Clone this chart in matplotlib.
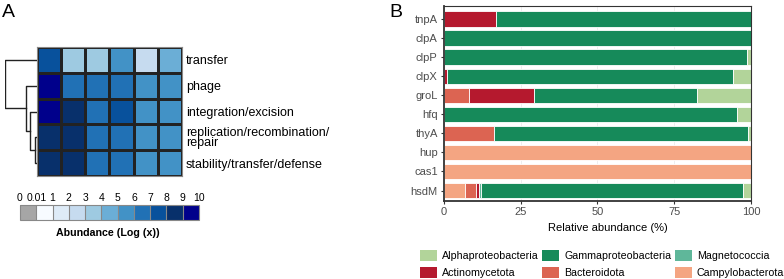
import matplotlib
matplotlib.use("Agg")
import matplotlib.pyplot as plt
from matplotlib.colors import ListedColormap, BoundaryNorm
from matplotlib.cm import ScalarMappable
from matplotlib.patches import Patch
import numpy as np

plt.rcParams['font.family'] = ['Liberation Sans', 'DejaVu Sans']

# ---- panel A data ----
functions = ['transfer', 'phage', 'integration/excision',
             'replication/recombination/\nrepair', 'stability/transfer/defense']
# log abundance per sample (6 samples)
abund = [
    [7.5, 3.5, 3.5, 5.5, 2.5, 4.5],
    [9.5, 6.5, 6.5, 6.5, 5.5, 5.5],
    [9.5, 8.5, 6.5, 7.5, 5.5, 5.5],
    [8.5, 8.5, 6.5, 6.5, 5.5, 5.5],
    [8.5, 8.5, 6.5, 6.5, 5.5, 5.5],
]
bounds = [0, 0.01, 1, 2, 3, 4, 5, 6, 7, 8, 9, 10]
bound_labels = ['0', '0.01', '1', '2', '3', '4', '5', '6', '7', '8', '9', '10']
pal = ['#a6a6a6', '#f7fbff', '#deebf7', '#c6dbef', '#9ecae1', '#6baed6',
       '#4292c6', '#2171b5', '#08519c', '#08306b', '#00008b']
# dendrogram merge heights (relative)
h_repstab = 0.06
h_integ = 0.22
h_phage = 0.34
h_root = 1.0

# ---- panel B data ----
genes = ['tnpA', 'clpA', 'clpP', 'clpX', 'groL', 'hfq', 'thyA', 'hup', 'cas1', 'hsdM']
campylo   = [0, 0, 0, 0, 0, 0, 0, 100, 100, 6.8]
bacteroid = [0, 0, 0, 0, 8.1, 0, 16.4, 0, 0, 3.6]
actino    = [17.1, 0, 0, 1.0, 21.2, 0, 0, 0, 0, 1.0]
magneto   = [0, 0, 0, 0, 0, 0, 0, 0, 0, 0.5]
gamma     = [82.9, 100, 98.8, 93.1, 53.0, 95.3, 82.6, 0, 0, 85.6]
alpha     = [0, 0, 1.2, 5.9, 17.7, 4.7, 1.0, 0, 0, 2.5]

taxa_cols = {
    'Alphaproteobacteria': '#b2d49a',
    'Gammaproteobacteria': '#168a5a',
    'Magnetococcia': '#5fb79a',
    'Actinomycetota': '#b5192e',
    'Bacteroidota': '#dc6452',
    'Campylobacterota': '#f4a582',
}

fig = plt.figure(figsize=(7.84, 2.79), dpi=100)

# heatmap
cmap = ListedColormap(pal)
norm = BoundaryNorm(bounds, cmap.N)
axh = fig.add_axes([0.0472, 0.3692, 0.1849, 0.4623])
data = np.array(abund)
axh.pcolormesh(np.arange(data.shape[1] + 1), np.arange(data.shape[0] + 1), data,
               cmap=cmap, norm=norm, edgecolor='#222222', linewidth=0.8)
axh.set_xlim(0, data.shape[1])
axh.set_ylim(data.shape[0], 0)
axh.set_xticks([])
axh.set_yticks(np.arange(data.shape[0]) + 0.5)
axh.set_yticklabels(functions, fontsize=9, linespacing=0.85)
axh.yaxis.tick_right()
axh.tick_params(axis='y', length=0, pad=3)
for s in axh.spines.values():
    s.set_color('#888888')
    s.set_linewidth(0.8)

# dendrogram
axd = fig.add_axes([0.0064, 0.3692, 0.0408, 0.4623])
axd.set_xlim(h_root, 0)
axd.set_ylim(data.shape[0], 0)
axd.axis('off')
y = np.arange(data.shape[0]) + 0.5
kw = dict(color='#222222', lw=1.0)
m_rs = (y[3] + y[4]) / 2
axd.plot([0, h_repstab, h_repstab, 0], [y[3], y[3], y[4], y[4]], **kw)
m_i = (y[2] + m_rs) / 2
axd.plot([0, h_integ, h_integ, h_repstab], [y[2], y[2], m_rs, m_rs], **kw)
m_p = (y[1] + m_i) / 2
axd.plot([0, h_phage, h_phage, h_integ], [y[1], y[1], m_i, m_i], **kw)
axd.plot([0, h_root, h_root, h_phage], [y[0], y[0], m_p, m_p], **kw)

# colour key
axc = fig.add_axes([0.0255, 0.2115, 0.2283, 0.0538])
cb = fig.colorbar(ScalarMappable(norm=norm, cmap=cmap), cax=axc,
                  orientation='horizontal', spacing='uniform', ticks=bounds,
                  drawedges=True)
cb.outline.set_edgecolor('#888888')
cb.outline.set_linewidth(0.8)
cb.dividers.set_color('#888888')
cb.dividers.set_linewidth(0.8)
axc.xaxis.set_ticks_position('top')
axc.set_xticklabels(bound_labels, fontsize=7.5)
axc.tick_params(axis='x', length=0, pad=1.5)
fig.text(0.138, 0.165, 'Abundance (Log (x))', fontsize=7.7, fontweight='bold',
         ha='center', va='center')

# stacked bars
axb = fig.add_axes([0.5663, 0.2796, 0.3916, 0.6989])
ypos = np.arange(len(genes))
left = np.zeros(len(genes))
order = [('Campylobacterota', campylo), ('Bacteroidota', bacteroid),
         ('Actinomycetota', actino), ('Magnetococcia', magneto),
         ('Gammaproteobacteria', gamma), ('Alphaproteobacteria', alpha)]
for name, vals in order:
    vals = np.array(vals)
    axb.barh(ypos, vals, left=left, height=0.8, color=taxa_cols[name],
             edgecolor='white', linewidth=0.6, zorder=2)
    left += vals
axb.set_xlim(0, 100)
axb.set_ylim(len(genes) - 1 + 0.55, -0.68)
axb.set_yticks(ypos)
axb.set_yticklabels(genes)
axb.set_xticks([0, 25, 50, 75, 100])
axb.set_xticklabels(['0', '25', '50', '75', '100'])
axb.tick_params(labelsize=8, labelcolor='#4d4d4d', length=2.5, width=0.8,
                color='#333333', pad=2)
axb.set_xlabel('Relative abundance (%)', fontsize=8)
axb.xaxis.set_label_coords(0.535, -0.115)
axb.grid(axis='x', color='#ebebeb', lw=0.6, zorder=0)
axb.set_axisbelow(True)
for s in axb.spines.values():
    s.set_color('#333333')
    s.set_linewidth(0.8)
axb.spines['left'].set_linewidth(1.3)
axb.spines['bottom'].set_linewidth(1.3)

leg_order = ['Alphaproteobacteria', 'Actinomycetota', 'Gammaproteobacteria',
             'Bacteroidota', 'Magnetococcia', 'Campylobacterota']
handles = [Patch(facecolor=taxa_cols[n], edgecolor='none', label=n) for n in leg_order]
fig.legend(handles=handles, ncol=3, loc='center left',
           bbox_to_anchor=(0.5355, 0.053), frameon=False, fontsize=7.7,
           handlelength=1.6, handleheight=1.2, handletextpad=0.45,
           columnspacing=0.35, labelspacing=0.55, borderaxespad=0, borderpad=0)

fig.text(0.003, 0.985, 'A', fontsize=14, va='top', ha='left')
fig.text(0.497, 0.985, 'B', fontsize=14, va='top', ha='left')

fig.savefig('out.png', dpi=100)
